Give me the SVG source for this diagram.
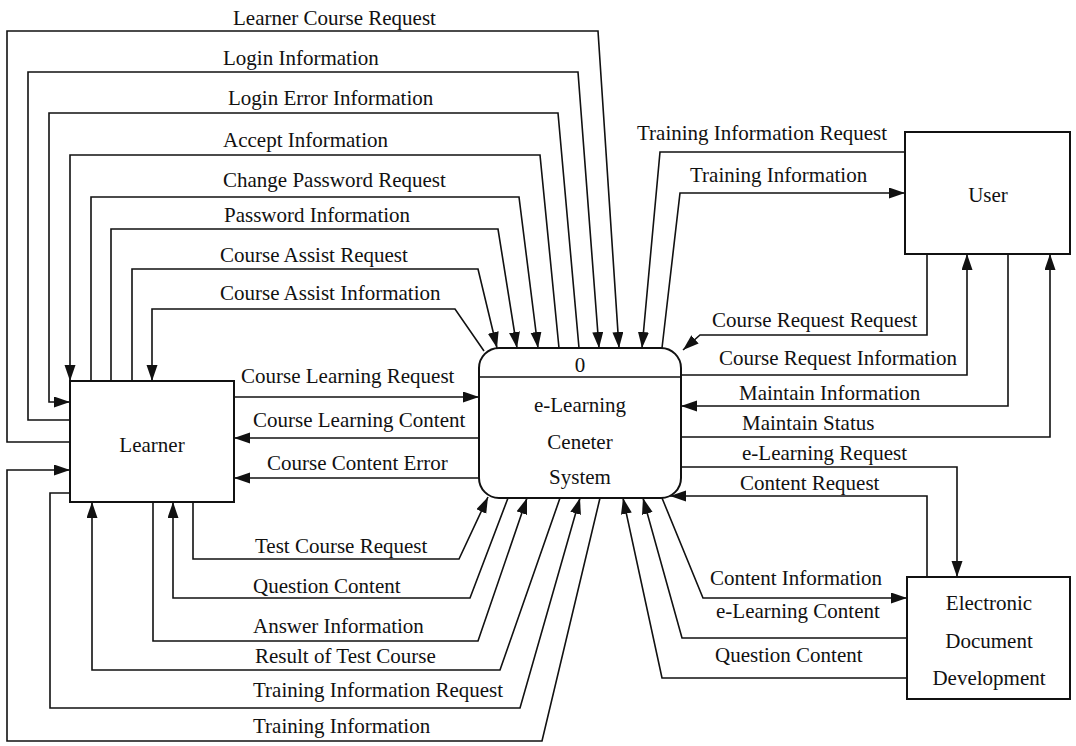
<svg xmlns="http://www.w3.org/2000/svg" width="1076" height="746" viewBox="0 0 1076 746">
  <defs>
    <marker id="arrow" markerUnits="userSpaceOnUse" markerWidth="17" markerHeight="12" refX="16" refY="5.5" orient="auto">
      <path d="M0,0 L16,5.5 L0,11 z" fill="#111"/>
    </marker>
    <style>
      .box { fill: #fff; stroke: #111; stroke-width: 2; }
      .flow { fill: none; stroke: #111; stroke-width: 1.6; stroke-linejoin: miter; marker-end: url(#arrow); }
      .plain { fill: none; stroke: #111; stroke-width: 1.6; }
      text { font-family: "Liberation Serif", "Times New Roman", serif; font-size: 21px; fill: #111; }
      .c { text-anchor: middle; }
    </style>
  </defs>

  <rect width="1076" height="746" fill="#fff"/>

  <!-- flows between the entities and the process -->
  <g id="connectors">
    <!-- Learner side, top loops -->
    <polyline class="flow" points="70,442 7,442 7,31 598,31 619,348"/>
    <polyline class="flow" points="70,420 28,420 28,72 578,72 599,348"/>
    <polyline class="flow" points="579,348 558,113 49,113 49,402 70,402"/>
    <polyline class="flow" points="559,348 540,155 70,155 70,381"/>
    <polyline class="flow" points="91,381 91,197 519,197 538,348"/>
    <polyline class="flow" points="111,381 111,229 498,229 517,348"/>
    <polyline class="flow" points="132,381 132,269 478,269 497,348"/>
    <polyline class="flow" points="484,351 455,309 152,309 152,381"/>

    <!-- Learner side, direct -->
    <polyline class="flow" points="234,397 479,397"/>
    <polyline class="flow" points="479,438 234,438"/>
    <polyline class="flow" points="479,478 234,478"/>

    <!-- Learner side, bottom loops -->
    <polyline class="flow" points="193,502 193,559 459,559 488,497"/>
    <polyline class="flow" points="508,498 470,598 173,598 173,502"/>
    <polyline class="flow" points="153,502 153,641 478,641 527,498"/>
    <polyline class="flow" points="560,498 500,670 92,670 92,502"/>
    <polyline class="flow" points="70,493 50,493 50,708 520,708 580,498"/>
    <polyline class="flow" points="600,498 542,741 7,741 7,470 70,470"/>

    <!-- User -->
    <polyline class="flow" points="905,152 660,152 642,348"/>
    <polyline class="flow" points="662,348 680,193 905,193"/>
    <polyline class="flow" points="927,254 927,335 700,335 683,350"/>
    <polyline class="flow" points="681,375 967,375 967,254"/>
    <polyline class="flow" points="1008,254 1008,406 681,406"/>
    <polyline class="flow" points="681,437 1050,437 1050,254"/>

    <!-- Electronic Document Development -->
    <polyline class="flow" points="681,467 957,467 957,577"/>
    <polyline class="flow" points="927,577 927,496 670,496"/>
    <polyline class="flow" points="662,498 703,598 907,598"/>
    <polyline class="flow" points="907,638 682,638 643,498"/>
    <polyline class="flow" points="907,678 662,678 623,498"/>

    <!-- flow labels -->
    <text x="233" y="25">Learner Course Request</text>
    <text x="223" y="65">Login Information</text>
    <text x="228" y="105">Login Error Information</text>
    <text x="223" y="147">Accept Information</text>
    <text x="223" y="187">Change Password Request</text>
    <text x="224" y="222">Password Information</text>
    <text x="220" y="262">Course Assist Request</text>
    <text x="220" y="300">Course Assist Information</text>
    <text x="241" y="383">Course Learning Request</text>
    <text x="253" y="427">Course Learning Content</text>
    <text x="267" y="470">Course Content Error</text>
    <text x="255" y="553">Test Course Request</text>
    <text x="253" y="593">Question Content</text>
    <text x="253" y="633">Answer Information</text>
    <text x="255" y="663">Result of Test Course</text>
    <text x="253" y="697">Training Information Request</text>
    <text x="253" y="733">Training Information</text>

    <text x="637" y="140">Training Information Request</text>
    <text x="690" y="182">Training Information</text>
    <text x="712" y="327">Course Request Request</text>
    <text x="719" y="365">Course Request Information</text>
    <text x="739" y="400">Maintain Information</text>
    <text x="742" y="430">Maintain Status</text>
    <text x="742" y="460">e-Learning Request</text>
    <text x="740" y="490">Content Request</text>
    <text x="710" y="585">Content Information</text>
    <text x="716" y="618">e-Learning Content</text>
    <text x="715" y="662">Question Content</text>
  </g>

  <g id="learner">
    <rect class="box" x="70" y="381" width="164" height="121"/>
    <text class="c" x="152" y="452">Learner</text>
  </g>

  <g id="process">
    <rect class="box" x="479" y="348" width="202" height="150" rx="20" ry="20"/>
    <line class="plain" x1="479" y1="377" x2="681" y2="377"/>
    <text class="c" x="580" y="372">0</text>
    <text class="c" x="580" y="412">e-Learning</text>
    <text class="c" x="580" y="449">Ceneter</text>
    <text class="c" x="580" y="484">System</text>
  </g>

  <g id="user">
    <rect class="box" x="905" y="132" width="165" height="122"/>
    <text class="c" x="988" y="202">User</text>
  </g>

  <g id="edd">
    <rect class="box" x="907" y="577" width="163" height="122"/>
    <text class="c" x="989" y="610">Electronic</text>
    <text class="c" x="989" y="648">Document</text>
    <text class="c" x="989" y="685">Development</text>
  </g>
</svg>
